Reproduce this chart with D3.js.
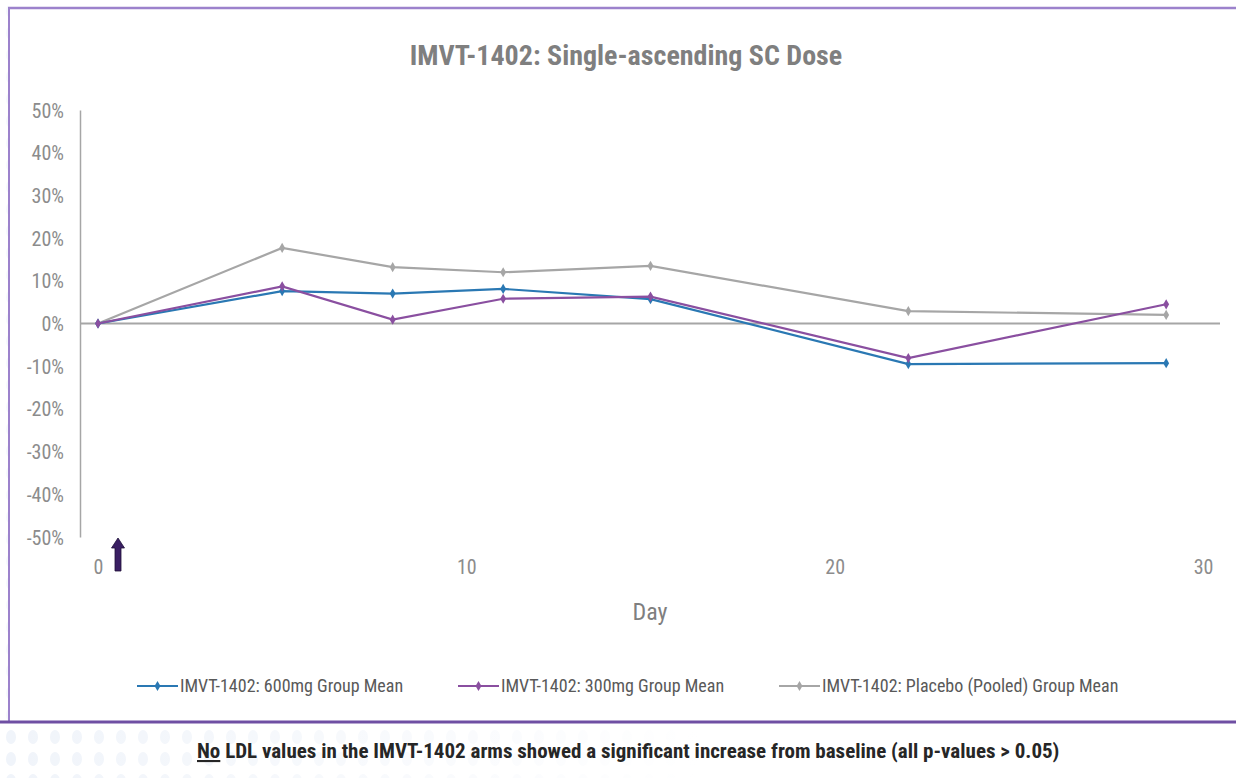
<!DOCTYPE html>
<html><head><meta charset="utf-8">
<script src="https://cdn.jsdelivr.net/npm/d3@7"></script>
<style>
body{margin:0;background:#fff;}
svg{display:block;}
</style></head>
<body>
<svg id="chart" width="1236" height="778"></svg>
<script>
const days = [0, 5, 8, 11, 15, 22, 29];
const mean600 = [0, 7.6, 7.0, 8.1, 5.7, -9.5, -9.3];
const mean300 = [0, 8.7, 0.9, 5.8, 6.3, -8.1, 4.5];
const meanPlacebo = [0, 17.7, 13.2, 12.0, 13.5, 2.9, 2.0];
const seriesNames = ["IMVT-1402: 600mg Group Mean", "IMVT-1402: 300mg Group Mean", "IMVT-1402: Placebo (Pooled) Group Mean"];
const seriesColors = ["#2a78b3", "#8a4fa0", "#a6a6a6"];
const yTicks = [-50, -40, -30, -20, -10, 0, 10, 20, 30, 40, 50];
const xTicks = [0, 10, 20, 30];
const titleText = "IMVT-1402: Single-ascending SC Dose";
const xTitle = "Day";
const footnoteRest = " LDL values in the IMVT-1402 arms showed a significant increase from baseline (all p-values > 0.05)";

const font = "'Liberation Sans Narrow','Arial Narrow','Roboto Condensed',sans-serif";
const svg = d3.select("#chart");

// faint dotted background in footer
const defs = svg.append("defs");
const pat = defs.append("pattern").attr("id","dots").attr("width",22).attr("height",22).attr("patternUnits","userSpaceOnUse");
pat.append("ellipse").attr("cx",11).attr("cy",11).attr("rx",5).attr("ry",7).attr("fill","#f0f4fa");
const grad = defs.append("linearGradient").attr("id","fade");
grad.append("stop").attr("offset","0%").attr("stop-color","#fff").attr("stop-opacity",0);
grad.append("stop").attr("offset","100%").attr("stop-color","#fff").attr("stop-opacity",1);
svg.append("rect").attr("x",0).attr("y",724).attr("width",700).attr("height",54).attr("fill","url(#dots)");
svg.append("rect").attr("x",0).attr("y",724).attr("width",700).attr("height",54).attr("fill","url(#fade)");
svg.append("rect").attr("x",0).attr("y",0).attr("width",8).attr("height",724).attr("fill","url(#dots)").attr("opacity",0.6);

// frame
svg.append("line").attr("x1",8).attr("x2",1236).attr("y1",8).attr("y2",8).attr("stroke","#9c82cc").attr("stroke-width",2.5);
svg.append("line").attr("x1",9).attr("x2",9).attr("y1",7).attr("y2",722).attr("stroke","#9c82cc").attr("stroke-width",2);
svg.append("line").attr("x1",0).attr("x2",1236).attr("y1",722).attr("y2",722).attr("stroke","#6f4fa3").attr("stroke-width",3);

const x = d3.scaleLinear().domain([0,30]).range([98,1203]);
const y = d3.scaleLinear().domain([-50,50]).range([537,110]);

// title
svg.append("text").attr("x",626).attr("y",65).attr("text-anchor","middle")
  .attr("font-family",font).attr("font-weight","bold").attr("font-size",28).attr("fill","#7f7f7f").text(titleText);

// y axis
const yAxis = d3.axisLeft(y).tickValues(yTicks).tickSize(0).tickPadding(16).tickFormat(d => d + "%");
const gy = svg.append("g").attr("transform","translate(80,0)").call(yAxis);
gy.select(".domain").attr("stroke","#a6a6a6").attr("stroke-width",1.5);
gy.selectAll("text").attr("font-family",font).attr("font-size",20).attr("fill","#8c8c8c").attr("dy","0.35em");

// zero line
svg.append("line").attr("x1",80).attr("x2",1220).attr("y1",y(0)).attr("y2",y(0)).attr("stroke","#a6a6a6").attr("stroke-width",2);

// x axis labels
const xAxis = d3.axisBottom(x).tickValues(xTicks).tickSize(0).tickPadding(0);
const gx = svg.append("g").attr("transform","translate(0,560)").call(xAxis);
gx.select(".domain").remove();
gx.selectAll("text").attr("font-family",font).attr("font-size",20).attr("fill","#8c8c8c").attr("dy","0.7em");

svg.append("text").attr("x",650).attr("y",620).attr("text-anchor","middle")
  .attr("font-family",font).attr("font-size",24).attr("fill","#7f7f7f").text(xTitle);

// dose arrow
svg.append("path")
  .attr("d","M118,538 L124.5,548 L121,548 L121,571 L115,571 L115,548 L111.5,548 Z")
  .attr("fill","#3a1f63").attr("stroke","#1e1038").attr("stroke-width",0.8);

// series
const allSeries = [mean600, mean300, meanPlacebo];
const line = d3.line().x((d,i)=>x(days[i])).y(d=>y(d));
const drawOrder = [2,0,1];
const diamond = d3.symbol().type(d3.symbolDiamond).size(30);
drawOrder.forEach(k => {
  const vals = allSeries[k];
  svg.append("path").datum(vals).attr("d",line).attr("fill","none")
    .attr("stroke",seriesColors[k]).attr("stroke-width",2.2);
  svg.append("g").selectAll("path").data(vals).join("path")
    .attr("d",diamond).attr("transform",(d,i)=>`translate(${x(days[i])},${y(d)})`)
    .attr("fill",seriesColors[k]);
});

// legend
const legendX = [137, 458, 779];
seriesNames.forEach((name,k) => {
  const g = svg.append("g").attr("transform",`translate(${legendX[k]},686)`);
  g.append("line").attr("x1",0).attr("x2",41).attr("y1",0).attr("y2",0).attr("stroke",seriesColors[k]).attr("stroke-width",2.2);
  g.append("path").attr("d",diamond).attr("transform","translate(20.5,0)").attr("fill",seriesColors[k]);
  g.append("text").attr("x",43).attr("y",0).attr("dy","0.35em").attr("font-family",font).attr("font-size",18).attr("fill","#595959").text(name);
});

// footnote
const fn = svg.append("text").attr("x",197).attr("y",758).attr("font-family",font).attr("font-weight","bold").attr("font-size",21).attr("fill","#262626");
fn.append("tspan").attr("text-decoration","underline").text("No");
fn.append("tspan").text(footnoteRest);
</script>
</body></html>
